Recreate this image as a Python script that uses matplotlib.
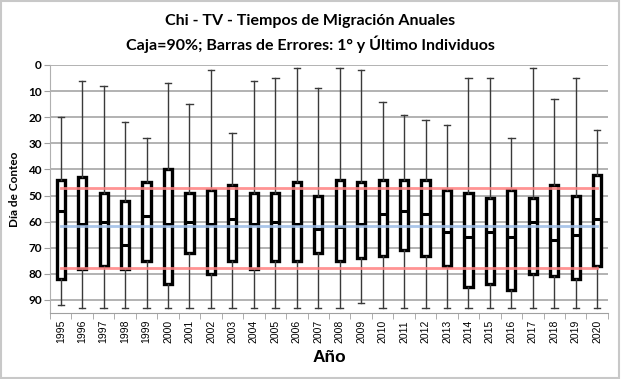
import matplotlib
matplotlib.use("Agg")
import matplotlib.pyplot as plt
from matplotlib.patches import Rectangle

# data (day of count; box = 90%, whiskers = first/last individual)
years = list(range(1995, 2021))
first_ind = [20, 6, 8, 22, 28, 7, 15, 2, 26, 6, 5, 1, 9, 1, 2, 14, 19, 21, 23, 5, 5, 28, 1, 13, 5, 25]
box_low = [44, 43, 49, 52, 45, 40, 49, 48, 46, 49, 49, 45, 50, 44, 45, 44, 44, 44, 48, 49, 51, 48, 51, 46, 50, 42]
medians = [56, 61, 60, 69, 58, 61, 60, 61, 59, 61, 60, 61, 63, 62, 61, 57, 56, 57, 64, 66, 64, 66, 60, 67, 65, 59]
box_high = [82, 78, 77, 78, 75, 84, 72, 80, 75, 78, 75, 75, 72, 75, 74, 73, 71, 73, 77, 85, 84, 86, 80, 81, 82, 77]
last_ind = [92, 93, 93, 93, 93, 93, 93, 93, 93, 93, 93, 93, 93, 93, 91, 93, 93, 93, 93, 93, 93, 93, 93, 93, 93, 93]

# reference lines: mean of box edges and overall median
ref_early = 47
ref_late = 77.6
ref_mid = 61.5

stats = []
for i in range(len(years)):
    stats.append({"whislo": first_ind[i], "q1": box_low[i], "med": medians[i],
                  "q3": box_high[i], "whishi": last_ind[i], "fliers": []})

fig = plt.figure(figsize=(6.21, 3.79), dpi=100)
ax = fig.add_axes([0.0805, 0.174, 0.8985, 0.6545])

ax.yaxis.grid(True, color="#a6a6a6", linewidth=1.2)
ax.set_axisbelow(True)

pos = list(range(len(years)))
ax.bxp(stats, positions=pos, widths=0.38, capwidths=0.3, showfliers=False,
       patch_artist=True, manage_ticks=False,
       boxprops=dict(facecolor="white", edgecolor="black", linewidth=2.4),
       medianprops=dict(color="black", linewidth=2.2),
       whiskerprops=dict(color="#3a3a3a", linewidth=1),
       capprops=dict(color="#3a3a3a", linewidth=1))

ax.plot([pos[0], pos[-1]], [ref_early, ref_early], color="#ff8080", lw=2, alpha=0.85, zorder=4)
ax.plot([pos[0], pos[-1]], [ref_late, ref_late], color="#ff8080", lw=2, alpha=0.85, zorder=4)
ax.plot([pos[0], pos[-1]], [ref_mid, ref_mid], color="#9dbce6", lw=2, alpha=0.85, zorder=4)

ax.set_xlim(-0.5, len(years) - 0.5)
ax.set_ylim(95, 0)
ax.set_yticks(range(0, 100, 10))
ax.set_xticks(pos)
ax.set_xticklabels([str(y) for y in years], rotation=90, fontsize=7.5, family="Liberation Sans")
ax.set_xticks([p - 0.5 for p in pos] + [pos[-1] + 0.5], minor=True)
ax.tick_params(axis="x", which="major", length=0, pad=5)
ax.tick_params(axis="x", which="minor", length=4, color="#a0a0a0")
ax.tick_params(axis="y", length=4, color="#a0a0a0", pad=2)
for lab in ax.get_yticklabels():
    lab.set_fontfamily("Lato")
    lab.set_fontweight("bold")
    lab.set_fontsize(8.5)

for s in ["top", "right"]:
    ax.spines[s].set_visible(False)
ax.spines["left"].set_color("#b0b0b0")
ax.spines["bottom"].set_color("#a0a0a0")

ax.set_xlabel("Año", fontsize=12.5, fontweight="bold", family="Liberation Sans", labelpad=5)
ax.set_ylabel("Día de Conteo", fontsize=8.5, fontweight="bold", family="Lato", labelpad=6)

fig.text(0.5, 0.945, "Chi - TV - Tiempos de Migración Anuales", ha="center", va="center",
         fontsize=11.5, fontweight="bold", family="Lato")
fig.text(0.5, 0.882, "Caja=90%; Barras de Errores: 1° y Último Individuos", ha="center", va="center",
         fontsize=11.5, fontweight="bold", family="Lato")

fig.patches.append(Rectangle((0.002, 0.003), 0.995, 0.994, transform=fig.transFigure,
                             fill=False, edgecolor="#c8c8c8", linewidth=1.5))

fig.savefig("out.png", dpi=100)
